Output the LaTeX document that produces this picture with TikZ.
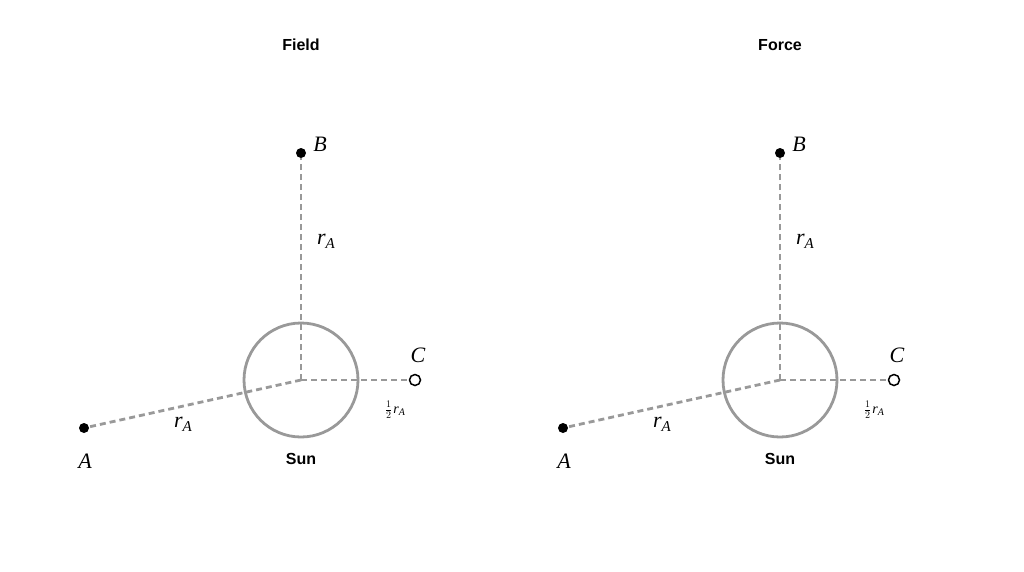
\documentclass[tikz,border=0pt]{standalone}
\usepackage{fontspec}
\setsansfont{Liberation Sans}
\setmainfont{Liberation Serif}
\begin{document}
\begin{tikzpicture}[x=1pt,y=-1pt,
  gl/.style={draw=gray!80,line width=2.8pt,dash pattern=on 6pt off 4pt},
  sunc/.style={draw=gray!80,line width=2.8pt,circle,minimum size=114pt,inner sep=0pt},
  dot/.style={circle,fill=black,minimum size=10pt,inner sep=0pt},
  odot/.style={circle,draw=black,fill=white,line width=1.5pt,minimum size=11pt,inner sep=0pt},
  ttl/.style={font=\sffamily\bfseries\fontsize{16}{18}\selectfont},
  lab/.style={font=\fontsize{22}{24}\selectfont\itshape}]
\useasboundingbox (0,0) rectangle (1024,571);
\foreach \dx/\t/\p in {0/Field/L,479/Force/R}{
\begin{scope}[xshift=\dx]
\node[ttl] (t\p) at (301,45) {\t};
\node[sunc] (s\p) at (301,380) {};
\coordinate (o\p) at (301,380);
\node[dot] (b\p) at (301,153) {};
\node[odot] (c\p) at (415,380) {};
\node[dot] (a\p) at (84,428) {};
\draw[gl] (o\p) -- (b\p);
\draw[gl] (o\p) -- (c\p);
\draw[gl] (o\p) -- (a\p);
\node[lab] (bl\p) at (320,144) {B};
\node[lab] (cl\p) at (418,355) {C};
\node[lab] (al\p) at (85,461) {A};
\node[lab] (r1\p) at (326,241) {r\raisebox{-4pt}{\fontsize{15}{15}\selectfont A}};
\node[lab] (r2\p) at (183,424) {r\raisebox{-4pt}{\fontsize{15}{15}\selectfont A}};
\node[font=\fontsize{14}{16}\selectfont] (h\p) at (395,410) {$\frac{1}{2}$\hspace{1pt}\textit{r}\raisebox{-2pt}{\fontsize{10}{10}\selectfont\itshape A}};
\node[font=\sffamily\bfseries\fontsize{16}{18}\selectfont] (sl\p) at (301,459) {Sun};
\end{scope}}
\end{tikzpicture}
\end{document}
